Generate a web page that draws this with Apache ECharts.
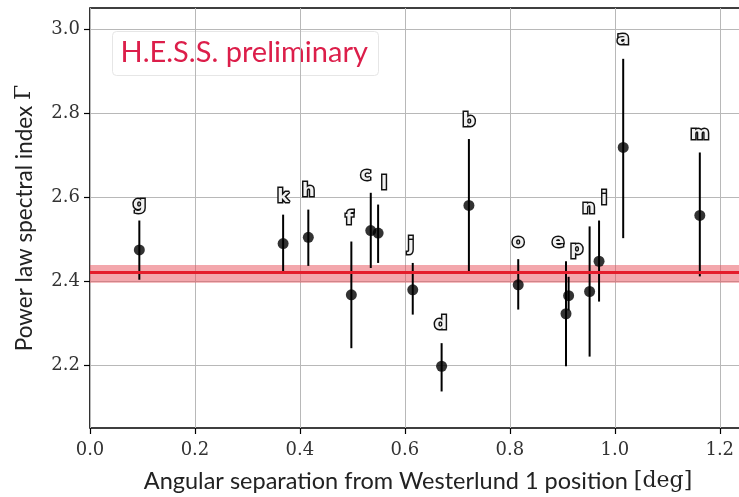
<!DOCTYPE html>
<html>
<head>
<meta charset="utf-8">
<script src="https://cdn.jsdelivr.net/npm/echarts@6/dist/echarts.min.js"></script>
<style>
  html, body { margin: 0; padding: 0; background: #fff; }
  #chart { width: 739px; height: 497px; }
</style>
</head>
<body>
<div id="chart"></div>
<script>
// Source identifiers
const labels = ['g', 'k', 'h', 'f', 'c', 'l', 'j', 'd', 'b', 'o', 'e', 'p', 'n', 'i', 'a', 'm'];
// Angular separation from Westerlund 1 [deg]
const separation = [0.094, 0.368, 0.416, 0.498, 0.535, 0.549, 0.615, 0.670, 0.722, 0.816, 0.907, 0.912, 0.952, 0.970, 1.016, 1.162];
// Power-law spectral index and its error range
const gammaIndex = [2.474, 2.489, 2.504, 2.367, 2.520, 2.514, 2.379, 2.197, 2.580, 2.391, 2.322, 2.365, 2.375, 2.447, 2.718, 2.556];
const gammaLow   = [2.403, 2.419, 2.436, 2.240, 2.431, 2.443, 2.320, 2.137, 2.419, 2.332, 2.197, 2.330, 2.220, 2.351, 2.502, 2.411];
const gammaHigh  = [2.544, 2.558, 2.570, 2.494, 2.610, 2.582, 2.443, 2.252, 2.738, 2.452, 2.447, 2.410, 2.530, 2.544, 2.929, 2.706];
// Pixel nudges for the letter tags, measured from the top of each error bar
const tagShift = [[0,-16],[0,-17],[0,-18],[-2,-22],[-5,-17],[6,-20],[-2,-18],[-1,-19],[0,-18],[0,-17],[-8,-19],[8,-27],[-1,-18],[5,-21],[0,-19],[0,-18]];
// Mean index of the whole region and its uncertainty
const meanIndex = 2.417;
const meanError = 0.021;
// Axis tick values
const xTicks = [0.0, 0.2, 0.4, 0.6, 0.8, 1.0, 1.2];
const yTicks = [2.2, 2.4, 2.6, 2.8, 3.0];

const chart = echarts.init(document.getElementById('chart'), null, { renderer: 'canvas' });

const points = separation.map((x, i) => [x, gammaIndex[i], gammaLow[i], gammaHigh[i], i]);

const serif = '"DejaVu Serif", "Liberation Serif", serif';
const sans = 'Lato, "Open Sans", "DejaVu Sans", sans-serif';

chart.setOption({
  backgroundColor: '#fff',
  animation: false,
  grid: {
    left: 90, top: 8, width: 656, bottom: 69,
    outerBoundsMode: 'none', containLabel: false,
    show: true, borderColor: '#000', borderWidth: 1.6, backgroundColor: 'transparent'
  },
  xAxis: {
    type: 'value', min: 0, max: 1.25,
    name: 'Angular separation from Westerlund 1 position {s|[deg]}',
    nameLocation: 'middle', nameGap: 41,
    nameTextStyle: {
      fontFamily: sans, fontSize: 23.5, color: '#222',
      rich: { s: { fontFamily: serif, fontSize: 22, color: '#222' } }
    },
    axisLine: { show: false },
    axisTick: { show: true, customValues: xTicks, length: 6, inside: false, lineStyle: { color: '#000', width: 1.2 } },
    axisLabel: { customValues: xTicks, margin: 13, fontFamily: serif, fontSize: 18, color: '#333',
      formatter: v => v.toFixed(1) },
    splitLine: { show: true, lineStyle: { color: '#b8b8b8', width: 1 } }
  },
  yAxis: {
    type: 'value', min: 2.05, max: 3.05,
    name: 'Power law spectral index {s|Γ}',
    nameLocation: 'middle', nameGap: 54,
    nameTextStyle: {
      fontFamily: sans, fontSize: 22.5, color: '#222',
      rich: { s: { fontFamily: serif, fontSize: 22, color: '#222' } }
    },
    axisLine: { show: false },
    axisTick: { show: true, customValues: yTicks, length: 6, inside: false, lineStyle: { color: '#000', width: 1.2 } },
    axisLabel: { customValues: yTicks, margin: 10, fontFamily: serif, fontSize: 18, color: '#333',
      formatter: v => v.toFixed(1) },
    splitLine: { show: true, lineStyle: { color: '#b8b8b8', width: 1 } }
  },
  graphic: [{
    type: 'group', left: 112, top: 31,
    children: [
      { type: 'rect', shape: { x: 0, y: 0, width: 266, height: 44, r: 4 },
        style: { fill: 'rgba(255,255,255,0.85)', stroke: '#e6e6e6', lineWidth: 1 } },
      { type: 'text', x: 8, y: 21,
        style: { text: 'H.E.S.S. preliminary', fill: '#dc1e4a', fontFamily: sans, fontSize: 29,
          verticalAlign: 'middle', align: 'left' } }
    ]
  }],
  series: [
    {
      // Mean index band with its central value
      type: 'line', data: [], silent: true,
      markArea: {
        silent: true,
        itemStyle: { color: 'rgba(232,80,90,0.5)' },
        data: [[{ yAxis: meanIndex - meanError }, { yAxis: meanIndex + meanError }]]
      },
      markLine: {
        silent: true, symbol: 'none', label: { show: false },
        lineStyle: { color: '#e41d2b', width: 3, type: 'solid' },
        data: [{ yAxis: meanIndex }]
      }
    },
    {
      // Error bars and letter tags
      type: 'custom',
      data: points,
      z: 3,
      renderItem: function (params, api) {
        const x = api.value(0);
        const lo = api.coord([x, api.value(2)]);
        const hi = api.coord([x, api.value(3)]);
        const i = api.value(4);
        const sh = tagShift[i];
        return {
          type: 'group',
          children: [
            { type: 'line', shape: { x1: lo[0], y1: lo[1], x2: hi[0], y2: hi[1] },
              style: { stroke: '#000', lineWidth: 2 } },
            { type: 'text', x: hi[0] + sh[0], y: hi[1] + sh[1],
              style: { text: labels[i], fill: '#f2f2f2', stroke: '#111', lineWidth: 3,
                fontFamily: '"DejaVu Sans", sans-serif', fontWeight: 'bold', fontSize: 18,
                align: 'center', verticalAlign: 'middle' } }
          ]
        };
      }
    },
    {
      type: 'scatter',
      data: points.map(p => [p[0], p[1]]),
      symbol: 'circle', symbolSize: 11,
      itemStyle: { color: '#000' },
      z: 4
    }
  ]
});
</script>
</body>
</html>
